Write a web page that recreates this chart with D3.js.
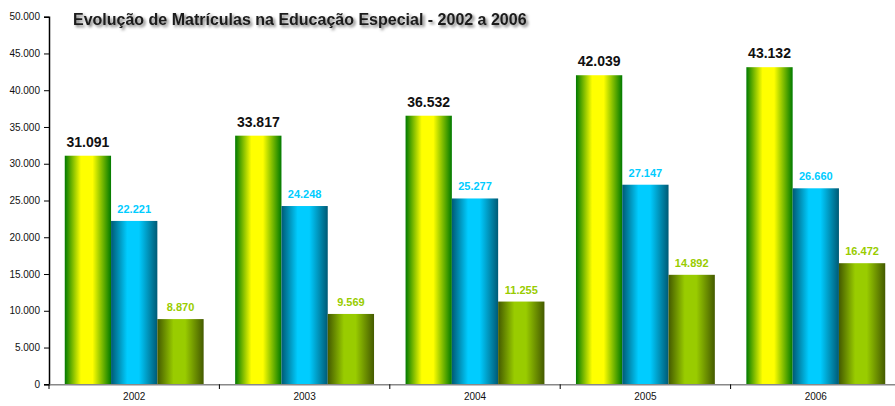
<!DOCTYPE html>
<html><head><meta charset="utf-8">
<script src="https://cdn.jsdelivr.net/npm/d3@7/dist/d3.min.js"></script>
<style>body{margin:0;background:#fff;}svg{display:block;font-family:"Liberation Sans",Arial,sans-serif;}</style>
</head><body>
<svg id="c" width="895" height="406"></svg>
<script>
const years = ["2002","2003","2004","2005","2006"];
const seriesA = [31091, 33817, 36532, 42039, 43132];
const seriesB = [22221, 24248, 25277, 27147, 26660];
const seriesC = [8870, 9569, 11255, 14892, 16472];
const yTicks = [0,5000,10000,15000,20000,25000,30000,35000,40000,45000,50000];
const title = "Evolução de Matrículas na Educação Especial - 2002 a 2006";

const series = [
  {key:"a", values:seriesA, edge:"#007a00", mid:"#ffff00", label:"#111", size:14},
  {key:"b", values:seriesB, edge:"#005a75", mid:"#00ccff", label:"#00ccff", size:11},
  {key:"c", values:seriesC, edge:"#445a00", mid:"#99cc00", label:"#99cc00", size:11}
];

const svg = d3.select("#c");
const defs = svg.append("defs");
series.forEach(s=>{
  const g = defs.append("linearGradient").attr("id","g"+s.key).attr("x1","0").attr("x2","1").attr("y1","0").attr("y2","0");
  g.append("stop").attr("offset","0").attr("stop-color",s.edge);
  g.append("stop").attr("offset","0.35").attr("stop-color",s.mid);
  g.append("stop").attr("offset","0.6").attr("stop-color",s.mid);
  g.append("stop").attr("offset","1").attr("stop-color",s.edge);
});
const f = defs.append("filter").attr("id","sh").attr("x","-10%").attr("y","-50%").attr("width","120%").attr("height","200%");
f.append("feDropShadow").attr("dx",2).attr("dy",2).attr("stdDeviation",1.5).attr("flood-color","#000").attr("flood-opacity",0.55);

const x0 = d3.scaleBand().domain(years).range([49, 901]).paddingInner(0.185).paddingOuter(0.0925);
const x1 = d3.scaleBand().domain(series.map(s=>s.key)).range([0, x0.bandwidth()]);
const y = d3.scaleLinear().domain([0,50000]).range([384.3, 16.7]);
const fmt = d3.formatLocale({thousands:".", grouping:[3], decimal:",", currency:["",""]}).format(",d");

// bars
series.forEach(s=>{
  const g = svg.append("g");
  g.selectAll("rect").data(years).join("rect")
    .attr("x", (d,i)=>x0(d)+x1(s.key))
    .attr("y", (d,i)=>y(s.values[i]))
    .attr("width", x1.bandwidth())
    .attr("height", (d,i)=>y(0)-y(s.values[i]))
    .attr("fill","url(#g"+s.key+")");
  g.selectAll("text").data(years).join("text")
    .attr("x", (d,i)=>x0(d)+x1(s.key)+x1.bandwidth()/2)
    .attr("y", (d,i)=>y(s.values[i]) - (s.key==="a"?9:8))
    .attr("text-anchor","middle")
    .attr("font-weight","bold")
    .attr("font-size", s.size)
    .attr("fill", s.label)
    .text((d,i)=>fmt(s.values[i]));
});

// y axis
const ya = svg.append("g").attr("transform","translate(49,0)")
  .call(d3.axisLeft(y).tickValues(yTicks).tickFormat(fmt).tickSize(5).tickPadding(4));
ya.select(".domain").attr("stroke","#000").attr("stroke-width",1.5);
ya.selectAll(".tick line").attr("stroke","#000");
ya.selectAll(".tick text").attr("font-size",10).attr("fill","#111").attr("font-family","Liberation Sans, Arial, sans-serif");

// x axis
const xa = svg.append("g").attr("transform","translate(0,384.3)")
  .call(d3.axisBottom(x0).tickSize(0).tickPadding(9));
xa.select(".domain").attr("stroke","#888").attr("stroke-width",1.5);
xa.selectAll(".tick text").attr("font-size",10).attr("fill","#111").attr("font-family","Liberation Sans, Arial, sans-serif");
const bounds = years.slice(1).map(d=>x0(d) - x0.step()*x0.paddingInner()/2);
svg.append("g").selectAll("line").data([49].concat(bounds)).join("line")
  .attr("x1",d=>d).attr("x2",d=>d).attr("y1",384.3).attr("y2",389)
  .attr("stroke","#000");

// title
svg.append("text").attr("x",73).attr("y",25)
  .attr("font-size",16).attr("font-weight","bold").attr("fill","#1a1a1a")
  .attr("filter","url(#sh)").text(title);
</script>
</body></html>
